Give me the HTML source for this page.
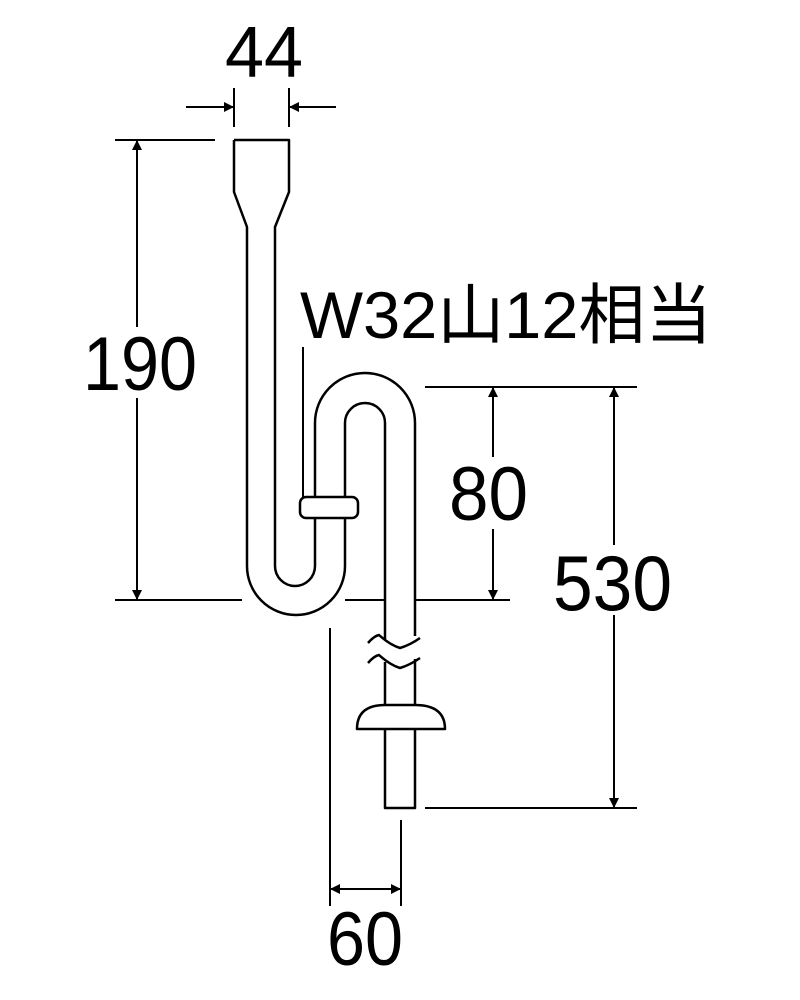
<!DOCTYPE html>
<html><head><meta charset="utf-8"><style>html,body{margin:0;padding:0;background:#fff}svg{display:block}</style></head>
<body>
<svg width="800" height="1000" viewBox="0 0 800 1000" xmlns="http://www.w3.org/2000/svg">
<defs>
<marker id="a" viewBox="0 0 10 10" refX="10" refY="5" markerWidth="14" markerHeight="10" markerUnits="userSpaceOnUse" orient="auto"><path d="M0,0 L10,5 L0,10 z" fill="#000"/></marker>
</defs>
<g fill="none" stroke="#000" stroke-width="2.5" stroke-linejoin="round">
<!-- funnel + left leg + U + middle leg -->
<path d="M234,140 L289,140 L289,192 L275,227 L275,566 A20,20 0 0 0 315,566 L315,423 A50,50 0 0 1 415,423 L415,636"/>
<path d="M234,140 L234,192 L247,227 L247,566 A49,49 0 0 0 345,566 L345,423 A20,20 0 0 1 385,423 L385,640"/>
<!-- break -->
<path d="M368,643 Q374,636 379,635 Q390,645 400,648 Q410,645 420,638"/>
<path d="M368,663 Q374,656 379,655 Q390,665 400,668 Q410,665 420,658"/>
<path d="M385,662 L385,705 M415,659 L415,705"/>
<!-- bell -->
<path d="M357,729 Q357,705 385,705 L415,705 Q445,705 445,729 Z" fill="#fff"/>
<path d="M385,729 L385,808 L415,808 L415,729"/>
<!-- nut -->
<rect x="300" y="497" width="58" height="21" rx="6" fill="#fff"/>
</g>
<g stroke="#000" stroke-width="2" fill="none">
<!-- 44 -->
<path d="M234,88 V127 M289,88 V127"/>
<path d="M186,107 H234" marker-end="url(#a)"/>
<path d="M336,107 H289" marker-end="url(#a)"/>
<!-- leader -->
<path d="M303,347 V497"/>
<!-- 190 -->
<path d="M115,140 H215 M115,600 H242 M345,600 H385 M415,600 H510"/>
<path d="M137,327 V140" marker-end="url(#a)"/>
<path d="M137,398 V600" marker-end="url(#a)"/>
<!-- 80 / 530 -->
<path d="M425,387 H637 M425,808 H637"/>
<path d="M493,457 V387" marker-end="url(#a)"/>
<path d="M493,529 V600" marker-end="url(#a)"/>
<path d="M614,545 V387" marker-end="url(#a)"/>
<path d="M614,615 V808" marker-end="url(#a)"/>
<!-- 60 -->
<path d="M330,628 V906 M401,820 V906"/>
<path d="M365,889 H330" marker-end="url(#a)"/>
<path d="M365,889 H401" marker-end="url(#a)"/>
</g>
<g font-family="Liberation Sans, Noto Sans CJK JP, sans-serif" fill="#000">
<text x="225" y="77" font-size="72" textLength="78" lengthAdjust="spacingAndGlyphs">44</text>
<text x="83" y="390" font-size="76" textLength="114" lengthAdjust="spacingAndGlyphs">190</text>
<text x="449" y="520" font-size="76" textLength="79" lengthAdjust="spacingAndGlyphs">80</text>
<text x="553" y="610" font-size="78" textLength="119" lengthAdjust="spacingAndGlyphs">530</text>
<text x="327" y="965" font-size="76" textLength="76" lengthAdjust="spacingAndGlyphs">60</text>
<text x="300" y="338" font-size="66" textLength="412" lengthAdjust="spacingAndGlyphs">W32山12相当</text>
</g>
</svg>
</body></html>
